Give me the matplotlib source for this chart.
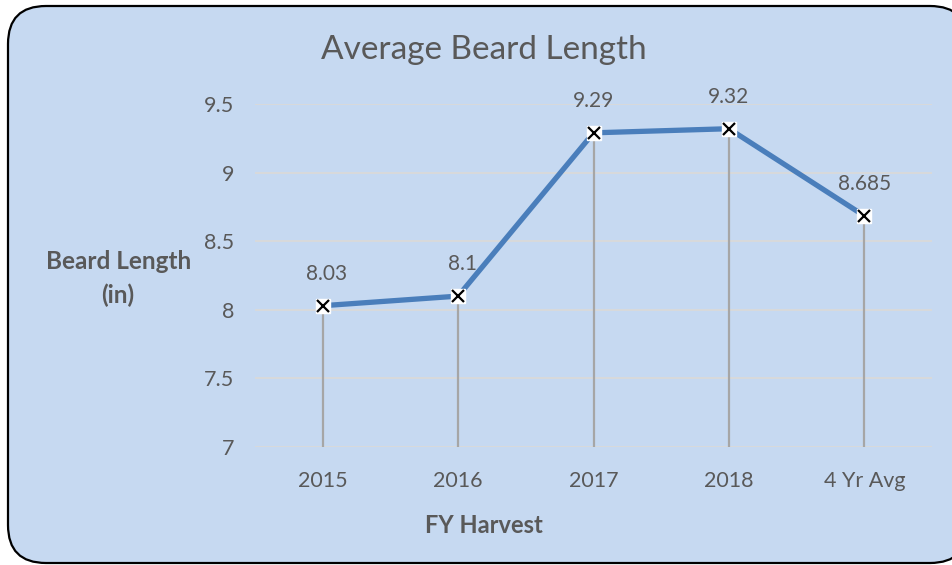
import matplotlib.pyplot as plt
from matplotlib.patches import FancyBboxPatch

years = ["2015", "2016", "2017", "2018", "4 Yr Avg"]
beard_length = [8.03, 8.1, 9.29, 9.32, 8.685]
value_labels = ["8.03", "8.1", "9.29", "9.32", "8.685"]
yticks = [7, 7.5, 8, 8.5, 9, 9.5]
ytick_labels = ["7", "7.5", "8", "8.5", "9", "9.5"]

plt.rcParams['font.family'] = ['Lato', 'DejaVu Sans']
bg = "#C6D9F1"
txt = "#595959"

fig = plt.figure(figsize=(9.53, 5.65), dpi=100)
fig.patch.set_facecolor("white")

# rounded chart border (pixel coords)
box = FancyBboxPatch((8, 2), 960, 557, boxstyle="round,pad=0,rounding_size=38",
                     transform=None, facecolor=bg, edgecolor="black", linewidth=1.6,
                     zorder=-10)
fig.patches.append(box)

ax = fig.add_axes([0.2676, 0.2088, 0.7104, 0.6071])
ax.set_facecolor("none")
x = list(range(len(years)))

ax.set_ylim(7, 9.5)
ax.set_xlim(-0.5, len(years) - 0.5)
for y in yticks:
    ax.axhline(y, color="#D9D9D9", linewidth=1.3, zorder=1)

ax.vlines(x, 7, beard_length, color="#A6A6A6", linewidth=1.6, zorder=2)
ax.plot(x, beard_length, color="#4A7EBB", linewidth=3.8, zorder=3,
        solid_capstyle="round")
ax.plot(x, beard_length, linestyle="none", marker="s", markersize=10.5,
        markerfacecolor="white", markeredgecolor="white", zorder=4)
ax.plot(x, beard_length, linestyle="none", marker="x", markersize=9,
        markeredgecolor="black", markeredgewidth=1.6, zorder=5)

for xi, yi, lab in zip(x, beard_length, value_labels):
    ax.annotate(lab, (xi, yi), xytext=(3 if xi < 2 else 0, 23), textcoords="offset points",
                ha="center", va="center", fontsize=15, color=txt)

ax.set_xticks(x)
ax.set_xticklabels(years, fontsize=15.5, color=txt)
ax.set_yticks(yticks)
ax.set_yticklabels(ytick_labels, fontsize=15.5, color=txt)
ax.tick_params(axis="x", length=0, pad=17)
ax.tick_params(axis="y", length=0, pad=15)
for s in ax.spines.values():
    s.set_visible(False)

fig.text(0.508, 0.912, "Average Beard Length", ha="center", va="center",
         fontsize=24, color=txt)
fig.text(0.124, 0.507, "Beard Length\n(in)", ha="center", va="center",
         fontsize=17.5, fontweight="bold", color=txt, linespacing=1.5)
fig.text(0.508, 0.070, "FY Harvest", ha="center", va="center",
         fontsize=17, fontweight="bold", color=txt)

fig.savefig("out.png", dpi=100)
